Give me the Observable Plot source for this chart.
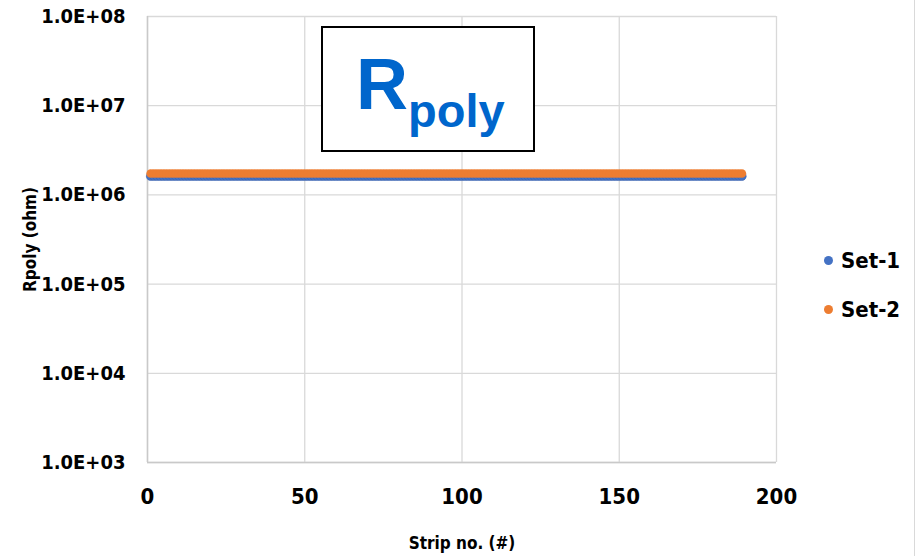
<!DOCTYPE html>
<html>
<head>
<meta charset="utf-8">
<script src="https://cdn.jsdelivr.net/npm/d3@7"></script>
<script src="https://cdn.jsdelivr.net/npm/@observablehq/plot@0.6"></script>
<style>
  html, body { margin: 0; padding: 0; background: #fff; }
  #wrap { position: relative; width: 917px; height: 556px; overflow: hidden; }
  #rborder { position: absolute; left: 914px; top: 0; width: 1px; height: 556px; background: #d9d9d9; }
  #titlebox { position: absolute; left: 321px; top: 26px; width: 210px; height: 122px; border: 2px solid #000; background: #fff; }
  #titlebox .t { position: absolute; left: 33px; top: 0; font-family: "Liberation Sans", Arial, sans-serif; font-weight: bold; color: #0066CC; white-space: nowrap; }
  .legend { position: absolute; left: 824px; font-family: "Liberation Sans Narrow", "DejaVu Sans Condensed", sans-serif; font-weight: bold; font-size: 22px; color: #000; display: flex; align-items: center; }
  .legend .dot { width: 9px; height: 9px; border-radius: 50%; margin-right: 8px; }
</style>
</head>
<body>
<div id="wrap">
  <div id="chart"></div>
  <div id="titlebox"><div class="t" id="ttext"></div></div>
  <div id="legend"></div>
  <div id="rborder"></div>
</div>
<script>
const seriesNames = ["Set-1", "Set-2"];
const seriesColors = ["#4472C4", "#ED7D31"];
const yTicks = [1e3, 1e4, 1e5, 1e6, 1e7, 1e8];
const xTicks = [0, 50, 100, 150, 200];
const strips = [
  1,2,3,4,5,6,7,8,9,10,11,12,13,14,15,16,17,18,19,20,
  21,22,23,24,25,26,27,28,29,30,31,32,33,34,35,36,37,38,39,40,
  41,42,43,44,45,46,47,48,49,50,51,52,53,54,55,56,57,58,59,60,
  61,62,63,64,65,66,67,68,69,70,71,72,73,74,75,76,77,78,79,80,
  81,82,83,84,85,86,87,88,89,90,91,92,93,94,95,96,97,98,99,100,
  101,102,103,104,105,106,107,108,109,110,111,112,113,114,115,116,117,118,119,120,
  121,122,123,124,125,126,127,128,129,130,131,132,133,134,135,136,137,138,139,140,
  141,142,143,144,145,146,147,148,149,150,151,152,153,154,155,156,157,158,159,160,
  161,162,163,164,165,166,167,168,169,170,171,172,173,174,175,176,177,178,179,180,
  181,182,183,184,185,186,187,188,189
];
// Rpoly in MOhm (flat band)
const set1 = [
  1.62,1.62,1.62,1.62,1.62,1.62,1.62,1.62,1.62,1.62,1.62,1.62,1.62,1.62,1.62,1.62,1.62,1.62,1.62,1.62,
  1.62,1.62,1.62,1.62,1.62,1.62,1.62,1.62,1.62,1.62,1.62,1.62,1.62,1.62,1.62,1.62,1.62,1.62,1.62,1.62,
  1.62,1.62,1.62,1.62,1.62,1.62,1.62,1.62,1.62,1.62,1.62,1.62,1.62,1.62,1.62,1.62,1.62,1.62,1.62,1.62,
  1.62,1.62,1.62,1.62,1.62,1.62,1.62,1.62,1.62,1.62,1.62,1.62,1.62,1.62,1.62,1.62,1.62,1.62,1.62,1.62,
  1.62,1.62,1.62,1.62,1.62,1.62,1.62,1.62,1.62,1.62,1.62,1.62,1.62,1.62,1.62,1.62,1.62,1.62,1.62,1.62,
  1.62,1.62,1.62,1.62,1.62,1.62,1.62,1.62,1.62,1.62,1.62,1.62,1.62,1.62,1.62,1.62,1.62,1.62,1.62,1.62,
  1.62,1.62,1.62,1.62,1.62,1.62,1.62,1.62,1.62,1.62,1.62,1.62,1.62,1.62,1.62,1.62,1.62,1.62,1.62,1.62,
  1.62,1.62,1.62,1.62,1.62,1.62,1.62,1.62,1.62,1.62,1.62,1.62,1.62,1.62,1.62,1.62,1.62,1.62,1.62,1.62,
  1.62,1.62,1.62,1.62,1.62,1.62,1.62,1.62,1.62,1.62,1.62,1.62,1.62,1.62,1.62,1.62,1.62,1.62,1.62,1.62,
  1.62,1.62,1.62,1.62,1.62,1.62,1.62,1.62,1.62
];
const set2 = [
  1.74,1.74,1.74,1.74,1.74,1.74,1.74,1.74,1.74,1.74,1.74,1.74,1.74,1.74,1.74,1.74,1.74,1.74,1.74,1.74,
  1.74,1.74,1.74,1.74,1.74,1.74,1.74,1.74,1.74,1.74,1.74,1.74,1.74,1.74,1.74,1.74,1.74,1.74,1.74,1.74,
  1.74,1.74,1.74,1.74,1.74,1.74,1.74,1.74,1.74,1.74,1.74,1.74,1.74,1.74,1.74,1.74,1.74,1.74,1.74,1.74,
  1.74,1.74,1.74,1.74,1.74,1.74,1.74,1.74,1.74,1.74,1.74,1.74,1.74,1.74,1.74,1.74,1.74,1.74,1.74,1.74,
  1.74,1.74,1.74,1.74,1.74,1.74,1.74,1.74,1.74,1.74,1.74,1.74,1.74,1.74,1.74,1.74,1.74,1.74,1.74,1.74,
  1.74,1.74,1.74,1.74,1.74,1.74,1.74,1.74,1.74,1.74,1.74,1.74,1.74,1.74,1.74,1.74,1.74,1.74,1.74,1.74,
  1.74,1.74,1.74,1.74,1.74,1.74,1.74,1.74,1.74,1.74,1.74,1.74,1.74,1.74,1.74,1.74,1.74,1.74,1.74,1.74,
  1.74,1.74,1.74,1.74,1.74,1.74,1.74,1.74,1.74,1.74,1.74,1.74,1.74,1.74,1.74,1.74,1.74,1.74,1.74,1.74,
  1.74,1.74,1.74,1.74,1.74,1.74,1.74,1.74,1.74,1.74,1.74,1.74,1.74,1.74,1.74,1.74,1.74,1.74,1.74,1.74,
  1.74,1.74,1.74,1.74,1.74,1.74,1.74,1.74,1.74
];

const d1 = strips.map((s, i) => ({strip: s, r: set1[i] * 1e6}));
const d2 = strips.map((s, i) => ({strip: s, r: set2[i] * 1e6}));

const FONT = '"Liberation Sans Narrow", "DejaVu Sans Condensed", "Open Sans", sans-serif';
const expFmt = d => "1.0E+" + String(Math.round(Math.log10(d))).padStart(2, "0");

const chart = Plot.plot({
  width: 917,
  height: 556,
  marginLeft: 147,
  marginRight: 141,
  marginTop: 16,
  marginBottom: 94,
  style: {fontFamily: FONT, fontWeight: "bold", color: "#000", background: "#fff", overflow: "visible"},
  x: {domain: [0, 200]},
  y: {type: "log", domain: [1e3, 1e8]},
  marks: [
    Plot.gridX(xTicks, {stroke: "#d9d9d9", strokeOpacity: 1, strokeWidth: 1.3}),
    Plot.gridY(yTicks, {stroke: "#d9d9d9", strokeOpacity: 1, strokeWidth: 1.3}),
    Plot.ruleX([0], {stroke: "#c9c9c9", strokeWidth: 1.5}),
    Plot.ruleY([1e3], {stroke: "#c9c9c9", strokeWidth: 1.5}),
    Plot.axisX(xTicks, {tickSize: 0, tickPadding: 26, fontSize: 22, fontWeight: "bold",
      label: "Strip no. (#)", labelAnchor: "center", labelArrow: "none", labelOffset: 86}),
    Plot.axisY(yTicks, {tickSize: 0, tickPadding: 22, fontSize: 20, fontWeight: "bold", tickFormat: expFmt,
      label: "Rpoly (ohm)", labelAnchor: "center", labelArrow: "none", labelOffset: 124}),
    Plot.dot(d1, {x: "strip", y: "r", r: 4.3, fill: seriesColors[0], stroke: "#3a62ad", strokeWidth: 0.6}),
    Plot.dot(d2, {x: "strip", y: "r", r: 4.3, fill: seriesColors[1]})
  ]
});
document.getElementById("chart").appendChild(chart);

// axis label font sizes
chart.querySelectorAll("g[aria-label='x-axis label'] text").forEach(t => t.setAttribute("font-size", 17));
chart.querySelectorAll("g[aria-label='y-axis label'] text").forEach(t => t.setAttribute("font-size", 17));

// title box
document.getElementById("ttext").innerHTML =
  '<span style="font-size:72px;position:relative;top:15px;">R</span><span style="font-size:47px;position:relative;top:33px;">poly</span>';

// legend
const leg = document.getElementById("legend");
seriesNames.forEach((n, i) => {
  const el = document.createElement("div");
  el.className = "legend";
  el.style.top = (248 + i * 49) + "px";
  el.innerHTML = `<span class="dot" style="background:${seriesColors[i]}"></span><span>${n}</span>`;
  leg.appendChild(el);
});
</script>
</body>
</html>
